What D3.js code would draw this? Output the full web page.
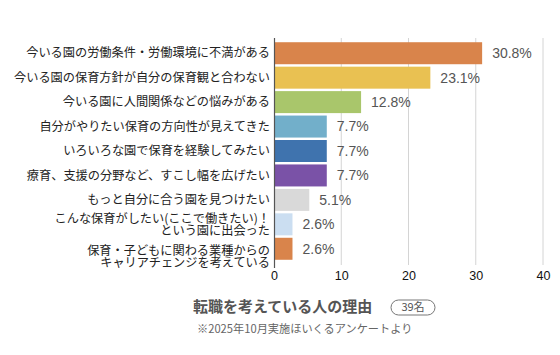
<!DOCTYPE html>
<html><head><meta charset="utf-8">
<script src="https://cdn.jsdelivr.net/npm/d3@7"></script>
<style>body{margin:0;background:#fff;}svg{display:block;font-family:"Noto Sans CJK JP","Noto Sans",sans-serif;}</style>
</head><body><svg id="c" width="560" height="355"></svg>
<script>
const categories = [
  ["今いる園の労働条件・労働環境に不満がある"],
  ["今いる園の保育方針が自分の保育観と合わない"],
  ["今いる園に人間関係などの悩みがある"],
  ["自分がやりたい保育の方向性が見えてきた"],
  ["いろいろな園で保育を経験してみたい"],
  ["療育、支援の分野など、すこし幅を広げたい"],
  ["もっと自分に合う園を見つけたい"],
  ["こんな保育がしたい(ここで働きたい)！", "という園に出会った"],
  ["保育・子どもに関わる業種からの", "キャリアチェンジを考えている"]
];
const values = [30.8, 23.1, 12.8, 7.7, 7.7, 7.7, 5.1, 2.6, 2.6];
const colors = ["#D9844B","#E9C152","#A9C66B","#72AFCA","#3F73AE","#7A52A7","#D9D9D9","#CBDEF1","#D9844B"];
const ticks = [0, 10, 20, 30, 40];
const title = "転職を考えている人の理由";
const badge = "39名";
const note = "※2025年10月実施ほいくるアンケートより";

const svg = d3.select("#c");
const x = d3.scaleLinear().domain([0, 40]).range([274, 543]);
const y = d3.scaleBand().domain(d3.range(values.length)).range([41, 261]).paddingInner(0.1).paddingOuter(0.05);

// grid
svg.append("g").selectAll("line").data(ticks.slice(1)).join("line")
  .attr("x1", d => x(d)).attr("x2", d => x(d))
  .attr("y1", 38).attr("y2", 265)
  .attr("stroke", "#d4d4d4").attr("stroke-width", 1);

// bars
svg.append("g").selectAll("rect").data(values).join("rect")
  .attr("x", x(0) + 1).attr("y", (d, i) => y(i))
  .attr("width", d => x(d) - x(0)).attr("height", y.bandwidth())
  .attr("fill", (d, i) => colors[i]);

// axis line
svg.append("line").attr("x1", x(0) + 0.5).attr("x2", x(0) + 0.5).attr("y1", 38).attr("y2", 268)
  .attr("stroke", "#555").attr("stroke-width", 1.2);

// x tick labels
const xAxis = d3.axisBottom(x).tickValues(ticks).tickSize(0).tickPadding(0);
const gx = svg.append("g").attr("transform", "translate(0,271)").call(xAxis);
gx.select(".domain").remove();
gx.selectAll("text").attr("font-size", 12.5).attr("fill", "#111").attr("font-family", "Liberation Sans, Arial, sans-serif");

// value labels
svg.append("g").selectAll("text").data(values).join("text")
  .attr("x", d => x(d) + 11).attr("y", (d, i) => y(i) + y.bandwidth() / 2)
  .attr("dy", "0.35em").attr("font-size", 14).attr("fill", "#555")
  .attr("font-family", "Liberation Sans, Arial, sans-serif")
  .text(d => d.toFixed(1) + "%");

// category labels (one text per line); the last label sits a little low, as in the original
const lines = [];
categories.forEach((d, i) => {
  const n = d.length;
  const shift = (i === categories.length - 1) ? 8 : 0;
  d.forEach((s, k) => lines.push({ s, i, off: (k - (n - 1) / 2) * 12 + shift }));
});
svg.append("g").selectAll("text").data(lines).join("text")
  .attr("text-anchor", "end").attr("font-size", 12.2).attr("fill", "#222")
  .attr("x", 270)
  .attr("y", d => y(d.i) + y.bandwidth() / 2 + d.off)
  .attr("dy", "0.35em")
  .text(d => d.s);

// title
svg.append("text").attr("x", 193).attr("y", 312).attr("font-size", 15).attr("font-weight", "bold")
  .attr("fill", "#555").text(title);
svg.append("rect").attr("x", 391).attr("y", 300).attr("width", 44).attr("height", 15).attr("rx", 7.5)
  .attr("fill", "none").attr("stroke", "#777").attr("stroke-width", 1);
svg.append("text").attr("x", 413).attr("y", 307.5).attr("dy", "0.36em").attr("text-anchor", "middle")
  .attr("font-size", 11).attr("fill", "#555").text(badge);
svg.append("text").attr("x", 197).attr("y", 333).attr("font-size", 11.2).attr("fill", "#666").text(note);
</script></body></html>
